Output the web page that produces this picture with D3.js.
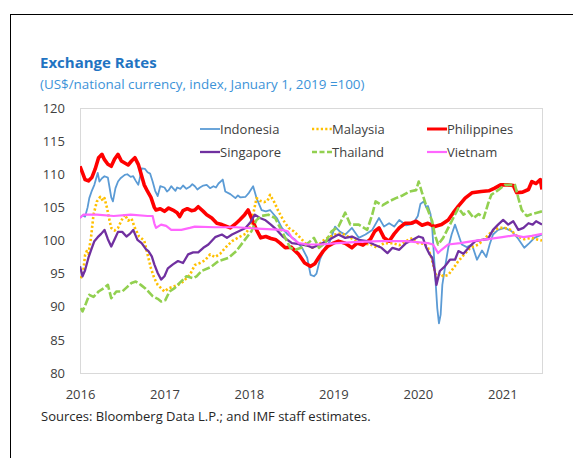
<!DOCTYPE html>
<html>
<head>
<meta charset="utf-8">
<script src="https://cdn.jsdelivr.net/npm/d3@7"></script>
<style>
  html, body { margin: 0; padding: 0; background: #ffffff; }
  svg { display: block; font-family: "Open Sans", "Noto Sans", sans-serif; }
</style>
</head>
<body>
<svg id="chart" width="573" height="458"></svg>
<script>
// ---- Data (t = years since Jan 1, 2016; value = index, Jan 1, 2019 = 100) ----
const yearTicks = [2016, 2017, 2018, 2019, 2020, 2021];
const yTicks = [80, 85, 90, 95, 100, 105, 110, 115, 120];
const seriesNames = ["Indonesia", "Malaysia", "Philippines", "Singapore", "Thailand", "Vietnam"];

const indonesia = [
  [0.00,103.4],[0.03,103.8],[0.06,103.6],[0.09,105.0],[0.11,106.4],[0.14,107.5],[0.17,108.4],[0.21,110.2],
  [0.23,108.9],[0.26,109.4],[0.29,109.7],[0.33,109.5],[0.35,108.0],[0.37,106.5],[0.39,105.9],[0.42,107.9],
  [0.45,108.9],[0.48,109.4],[0.53,109.9],[0.56,110.0],[0.60,109.6],[0.63,109.7],[0.66,109.0],[0.69,108.4],
  [0.71,109.5],[0.73,110.9],[0.77,110.8],[0.80,110.3],[0.83,110.1],[0.86,108.9],[0.89,107.5],[0.92,106.7],
  [0.95,108.2],[1.00,108.0],[1.03,107.4],[1.05,107.6],[1.08,108.2],[1.10,107.9],[1.13,107.5],[1.15,108.0],
  [1.19,107.8],[1.22,108.3],[1.26,107.8],[1.30,108.1],[1.33,108.5],[1.36,108.2],[1.39,107.7],[1.42,108.0],
  [1.46,108.3],[1.50,108.4],[1.54,107.9],[1.58,108.2],[1.61,108.0],[1.64,108.6],[1.69,109.2],[1.72,107.4],
  [1.78,107.0],[1.84,106.4],[1.87,106.8],[1.90,106.5],[1.96,106.6],[2.00,107.2],[2.05,108.2],[2.09,106.4],
  [2.15,104.6],[2.20,104.4],[2.25,104.6],[2.29,104.0],[2.33,103.4],[2.39,101.9],[2.46,100.9],[2.54,100.2],
  [2.63,98.9],[2.69,97.4],[2.73,94.8],[2.77,94.6],[2.80,95.0],[2.84,97.1],[2.90,98.9],[2.96,99.9],
  [3.02,102.1],[3.08,101.3],[3.14,100.9],[3.22,101.9],[3.30,100.4],[3.38,100.9],[3.46,101.6],[3.54,103.4],
  [3.60,102.1],[3.66,102.6],[3.72,102.1],[3.78,103.1],[3.86,102.3],[3.94,102.5],[4.00,103.7],[4.03,105.5],
  [4.07,105.9],[4.10,105.0],[4.12,105.2],[4.15,104.0],[4.17,101.9],[4.19,97.9],[4.21,93.8],[4.23,89.8],
  [4.25,87.5],[4.27,88.8],[4.29,93.3],[4.32,95.8],[4.36,98.9],[4.40,100.9],[4.44,102.4],[4.48,100.9],
  [4.52,99.4],[4.58,99.0],[4.64,99.4],[4.70,97.1],[4.76,98.5],[4.81,97.5],[4.85,99.4],[4.89,100.9],
  [4.95,101.6],[5.03,101.9],[5.11,101.4],[5.18,100.4],[5.26,98.9],[5.32,99.6],[5.38,100.4],[5.47,100.9]
];

const malaysia = [
  [0.01,94.3],[0.04,95.5],[0.06,97.8],[0.08,98.4],[0.10,98.0],[0.13,100.4],[0.16,103.9],[0.20,105.9],
  [0.24,106.6],[0.27,106.0],[0.29,106.4],[0.32,104.9],[0.35,103.0],[0.37,101.9],[0.41,101.5],[0.45,101.9],
  [0.49,103.0],[0.53,103.9],[0.57,103.0],[0.61,103.3],[0.65,101.9],[0.70,100.6],[0.76,100.0],[0.80,97.9],
  [0.84,95.8],[0.88,94.3],[0.92,93.3],[0.96,92.8],[1.00,92.3],[1.05,92.8],[1.10,93.0],[1.16,93.3],
  [1.22,93.8],[1.30,94.8],[1.36,96.3],[1.42,96.6],[1.48,97.0],[1.54,97.9],[1.60,97.5],[1.66,98.0],
  [1.72,98.9],[1.80,99.9],[1.88,100.5],[1.96,101.0],[2.01,102.0],[2.05,103.9],[2.09,106.4],[2.13,106.0],
  [2.18,105.8],[2.22,106.0],[2.25,106.9],[2.30,105.8],[2.35,104.4],[2.41,103.0],[2.47,101.9],[2.53,101.4],
  [2.61,100.4],[2.68,99.4],[2.75,98.9],[2.83,99.4],[2.90,100.2],[2.96,100.6],[3.02,100.9],[3.10,101.1],
  [3.17,100.6],[3.25,100.1],[3.33,99.4],[3.43,99.5],[3.52,98.9],[3.60,99.6],[3.70,99.6],[3.78,99.3],
  [3.86,99.9],[3.94,100.4],[4.00,99.6],[4.08,99.5],[4.12,98.9],[4.16,97.4],[4.20,95.5],[4.22,94.3],
  [4.26,95.0],[4.30,94.6],[4.36,94.8],[4.42,95.8],[4.48,96.9],[4.55,97.9],[4.62,98.9],[4.72,99.4],
  [4.80,100.4],[4.88,101.4],[4.96,101.9],[5.03,101.9],[5.10,101.6],[5.18,100.6],[5.26,100.2],[5.34,100.4],
  [5.40,100.2],[5.47,100.0]
];

const philippines = [
  [0.00,111.2],[0.03,110.2],[0.06,109.2],[0.10,109.0],[0.14,109.5],[0.18,110.8],[0.22,112.5],[0.26,113.0],
  [0.29,112.2],[0.33,111.5],[0.37,111.2],[0.41,112.3],[0.45,113.0],[0.49,112.0],[0.53,111.7],[0.57,111.4],
  [0.61,112.0],[0.65,112.5],[0.69,111.5],[0.72,110.2],[0.76,108.4],[0.80,107.4],[0.84,106.5],[0.88,105.0],
  [0.90,104.6],[0.95,104.8],[1.00,104.4],[1.05,104.9],[1.10,104.6],[1.15,104.2],[1.18,103.6],[1.22,104.5],
  [1.27,104.8],[1.32,104.5],[1.36,104.6],[1.40,105.1],[1.46,104.4],[1.50,103.9],[1.56,103.4],[1.62,102.6],
  [1.68,102.4],[1.72,102.2],[1.78,101.9],[1.84,102.5],[1.89,103.1],[1.95,103.9],[1.99,104.6],[2.03,103.4],
  [2.09,101.6],[2.14,100.4],[2.20,100.6],[2.26,100.3],[2.32,100.1],[2.37,99.6],[2.43,98.9],[2.50,99.0],
  [2.59,97.9],[2.66,96.6],[2.73,96.1],[2.78,96.5],[2.83,97.5],[2.88,98.4],[2.93,99.1],[3.00,99.6],
  [3.06,99.9],[3.14,99.6],[3.22,98.9],[3.28,99.6],[3.35,99.3],[3.40,99.8],[3.44,100.2],[3.49,101.4],
  [3.54,101.9],[3.60,100.4],[3.66,99.9],[3.72,101.0],[3.78,101.9],[3.85,102.6],[3.92,102.6],[3.98,102.9],
  [4.05,102.3],[4.12,102.6],[4.20,102.1],[4.28,102.4],[4.36,103.1],[4.42,104.2],[4.48,105.2],[4.56,106.4],
  [4.64,107.2],[4.75,107.4],[4.84,107.5],[4.91,107.9],[4.98,108.4],[5.06,108.4],[5.13,108.3],[5.17,107.2],
  [5.24,107.3],[5.31,107.7],[5.35,108.9],[5.40,108.6],[5.45,109.2],[5.47,107.7]
];

const singapore = [
  [0.00,96.1],[0.03,94.6],[0.06,95.5],[0.10,97.4],[0.13,98.5],[0.17,99.9],[0.21,100.5],[0.25,101.0],
  [0.29,101.6],[0.33,100.2],[0.37,99.1],[0.41,100.2],[0.45,101.3],[0.50,101.3],[0.55,100.6],[0.59,101.0],
  [0.63,101.6],[0.68,100.1],[0.73,99.6],[0.78,98.7],[0.81,98.4],[0.85,97.6],[0.88,96.4],[0.92,95.1],
  [0.96,94.1],[1.00,94.6],[1.04,95.8],[1.10,96.4],[1.16,96.9],[1.22,96.6],[1.28,97.9],[1.34,98.2],
  [1.40,98.2],[1.46,98.9],[1.52,99.4],[1.60,100.5],[1.68,100.9],[1.74,100.4],[1.80,100.9],[1.88,101.4],
  [1.96,101.9],[2.02,102.8],[2.07,103.9],[2.13,103.4],[2.19,103.1],[2.26,102.4],[2.33,101.6],[2.40,100.6],
  [2.51,99.6],[2.62,99.4],[2.70,99.2],[2.75,98.9],[2.84,99.4],[2.96,100.2],[3.06,100.9],[3.14,100.4],
  [3.22,100.6],[3.30,100.1],[3.40,99.9],[3.48,99.4],[3.57,98.9],[3.64,98.1],[3.70,98.9],[3.78,98.6],
  [3.86,99.6],[3.94,100.1],[4.01,100.6],[4.06,100.4],[4.10,98.9],[4.14,97.9],[4.17,97.4],[4.20,95.4],
  [4.22,93.3],[4.26,95.4],[4.32,96.1],[4.38,97.1],[4.44,97.1],[4.48,98.4],[4.54,98.0],[4.60,98.9],
  [4.68,99.9],[4.76,100.1],[4.83,100.2],[4.89,101.6],[4.95,102.4],[5.01,103.1],[5.07,102.4],[5.13,102.9],
  [5.19,101.6],[5.25,101.9],[5.31,102.6],[5.36,102.4],[5.40,102.9],[5.47,102.4]
];

const thailand = [
  [0.01,89.8],[0.03,89.3],[0.07,90.5],[0.11,91.8],[0.16,91.5],[0.22,92.3],[0.28,92.8],[0.33,93.3],
  [0.37,91.3],[0.43,92.3],[0.50,92.3],[0.56,93.0],[0.61,93.6],[0.66,93.8],[0.72,93.3],[0.77,92.8],
  [0.81,92.3],[0.86,91.6],[0.92,91.2],[0.96,90.8],[1.01,91.0],[1.06,92.3],[1.12,92.8],[1.18,93.6],
  [1.26,94.6],[1.34,94.3],[1.38,94.6],[1.44,95.4],[1.55,96.0],[1.64,96.9],[1.76,97.4],[1.85,98.4],
  [1.94,99.9],[2.03,101.4],[2.09,103.1],[2.15,103.7],[2.23,103.9],[2.31,103.4],[2.37,101.9],[2.43,100.4],
  [2.49,98.9],[2.55,98.6],[2.62,98.9],[2.70,99.6],[2.77,100.4],[2.83,98.9],[2.90,99.6],[2.98,101.4],
  [3.06,102.1],[3.14,104.2],[3.20,102.4],[3.30,102.4],[3.40,101.6],[3.46,103.9],[3.50,105.9],[3.58,105.3],
  [3.66,105.9],[3.74,106.4],[3.82,106.8],[3.90,107.4],[3.98,107.6],[4.01,108.9],[4.05,107.2],[4.10,105.2],
  [4.14,103.9],[4.17,102.9],[4.20,100.9],[4.24,99.4],[4.30,100.4],[4.36,101.9],[4.42,103.4],[4.48,104.9],
  [4.54,103.9],[4.60,104.4],[4.66,103.4],[4.72,104.0],[4.78,103.4],[4.83,105.5],[4.87,106.9],[4.95,107.6],
  [5.03,108.4],[5.11,108.4],[5.15,108.4],[5.19,106.4],[5.23,104.6],[5.29,103.7],[5.35,104.0],[5.41,104.2],
  [5.47,104.4]
];

const vietnam = [
  [0.00,103.4],[0.04,103.9],[0.20,103.9],[0.40,103.7],[0.60,103.9],[0.80,103.7],[0.86,103.7],[0.88,102.6],
  [0.90,101.9],[0.96,102.4],[1.02,102.2],[1.08,101.6],[1.20,101.6],[1.30,101.9],[1.36,102.1],[1.60,102.0],
  [1.85,102.0],[2.10,101.8],[2.39,101.6],[2.46,101.4],[2.51,100.4],[2.59,99.6],[2.70,99.4],[2.85,99.4],
  [3.05,99.6],[3.30,99.8],[3.55,99.9],[3.85,99.9],[4.12,99.6],[4.18,99.4],[4.24,98.1],[4.28,98.6],
  [4.36,99.4],[4.50,99.6],[4.65,99.9],[4.83,100.2],[5.00,100.5],[5.15,100.8],[5.25,100.5],[5.35,100.7],
  [5.47,101.0]
];

const seriesValues = [indonesia, malaysia, philippines, singapore, thailand, vietnam];

// ---- Styles ----
const styles = {
  Indonesia:   { color: "#5B9BD5", width: 1.8, dash: null },
  Malaysia:    { color: "#FFC000", width: 2.6, dash: "2.2,2.2" },
  Philippines: { color: "#FF0000", width: 3.6, dash: null },
  Singapore:   { color: "#7030A0", width: 2.3, dash: null },
  Thailand:    { color: "#92D050", width: 2.6, dash: "8,2.5" },
  Vietnam:     { color: "#FF66FF", width: 2.2, dash: null }
};

const svg = d3.select("#chart");
const plot = { left: 80, right: 542, top: 108, bottom: 373 };

// outer frame (extends beyond right and bottom)
svg.append("rect")
  .attr("x", 10.5).attr("y", 14.5).attr("width", 700).attr("height", 600)
  .attr("fill", "#fff").attr("stroke", "#000").attr("stroke-width", 1);

// title
svg.append("text").attr("x", 40).attr("y", 68)
  .attr("fill", "#1F74C2").attr("font-size", 15).attr("font-weight", 700)
  .text("Exchange Rates");
svg.append("text").attr("x", 40).attr("y", 89)
  .attr("fill", "#3C93D8").attr("font-size", 13.4)
  .text("(US$/national currency, index, January 1, 2019 =100)");

const x = d3.scaleLinear().domain([2016, 2021.47]).range([plot.left, plot.right]);
const y = d3.scaleLinear().domain([80, 120]).range([plot.bottom, plot.top]);

// plot border
svg.append("rect")
  .attr("x", plot.left + 0.5).attr("y", plot.top + 0.5)
  .attr("width", plot.right - plot.left).attr("height", plot.bottom - plot.top)
  .attr("fill", "none").attr("stroke", "#D9D9D9").attr("stroke-width", 1);

// y axis labels
const yAxis = d3.axisLeft(y).tickValues(yTicks).tickSize(0).tickPadding(15).tickFormat(d3.format("d"));
const gy = svg.append("g").attr("transform", `translate(${plot.left},0)`).call(yAxis);
gy.select(".domain").remove();
gy.selectAll("text").attr("font-size", 13).attr("fill", "#404040")
  .attr("font-family", "'Open Sans', 'Noto Sans', sans-serif");

// x axis labels
const xAxis = d3.axisBottom(x).tickValues(yearTicks).tickSize(0).tickPadding(17).tickFormat(d3.format("d"));
const gx = svg.append("g").attr("transform", `translate(0,${plot.bottom})`).call(xAxis);
gx.select(".domain").remove();
gx.selectAll("text").attr("font-size", 13).attr("fill", "#404040")
  .attr("font-family", "'Open Sans', 'Noto Sans', sans-serif");

// lines
const line = d3.line().x(d => x(2016 + d[0])).y(d => y(d[1]));
svg.append("clipPath").attr("id", "clip").append("rect")
  .attr("x", plot.left).attr("y", plot.top).attr("width", plot.right - plot.left).attr("height", plot.bottom - plot.top);
const gLines = svg.append("g").attr("clip-path", "url(#clip)");
seriesNames.forEach((name, i) => {
  const s = styles[name];
  gLines.append("path")
    .datum(seriesValues[i])
    .attr("d", line)
    .attr("fill", "none")
    .attr("stroke", s.color)
    .attr("stroke-width", s.width)
    .attr("stroke-linejoin", "round")
    .attr("stroke-dasharray", s.dash);
});

// legend
const legendPos = [
  { name: "Indonesia",   x: 200, y: 129 },
  { name: "Malaysia",    x: 312, y: 129 },
  { name: "Philippines", x: 427, y: 129 },
  { name: "Singapore",   x: 200, y: 152 },
  { name: "Thailand",    x: 312, y: 152 },
  { name: "Vietnam",     x: 427, y: 152 }
];
legendPos.forEach(p => {
  const s = styles[p.name];
  const g = svg.append("g");
  g.append("line").attr("x1", p.x).attr("x2", p.x + 20).attr("y1", p.y).attr("y2", p.y)
    .attr("stroke", s.color).attr("stroke-width", Math.min(s.width, 3))
    .attr("stroke-dasharray", p.name === "Thailand" ? "5,2.5" : s.dash);
  g.append("text").attr("x", p.x + 20).attr("y", p.y).attr("dy", "0.35em")
    .attr("font-size", 13).attr("fill", "#404040").text(p.name);
});

// source
svg.append("text").attr("x", 41).attr("y", 421)
  .attr("font-size", 13).attr("fill", "#262626")
  .text("Sources: Bloomberg Data L.P.; and IMF staff estimates.");
</script>
</body>
</html>
